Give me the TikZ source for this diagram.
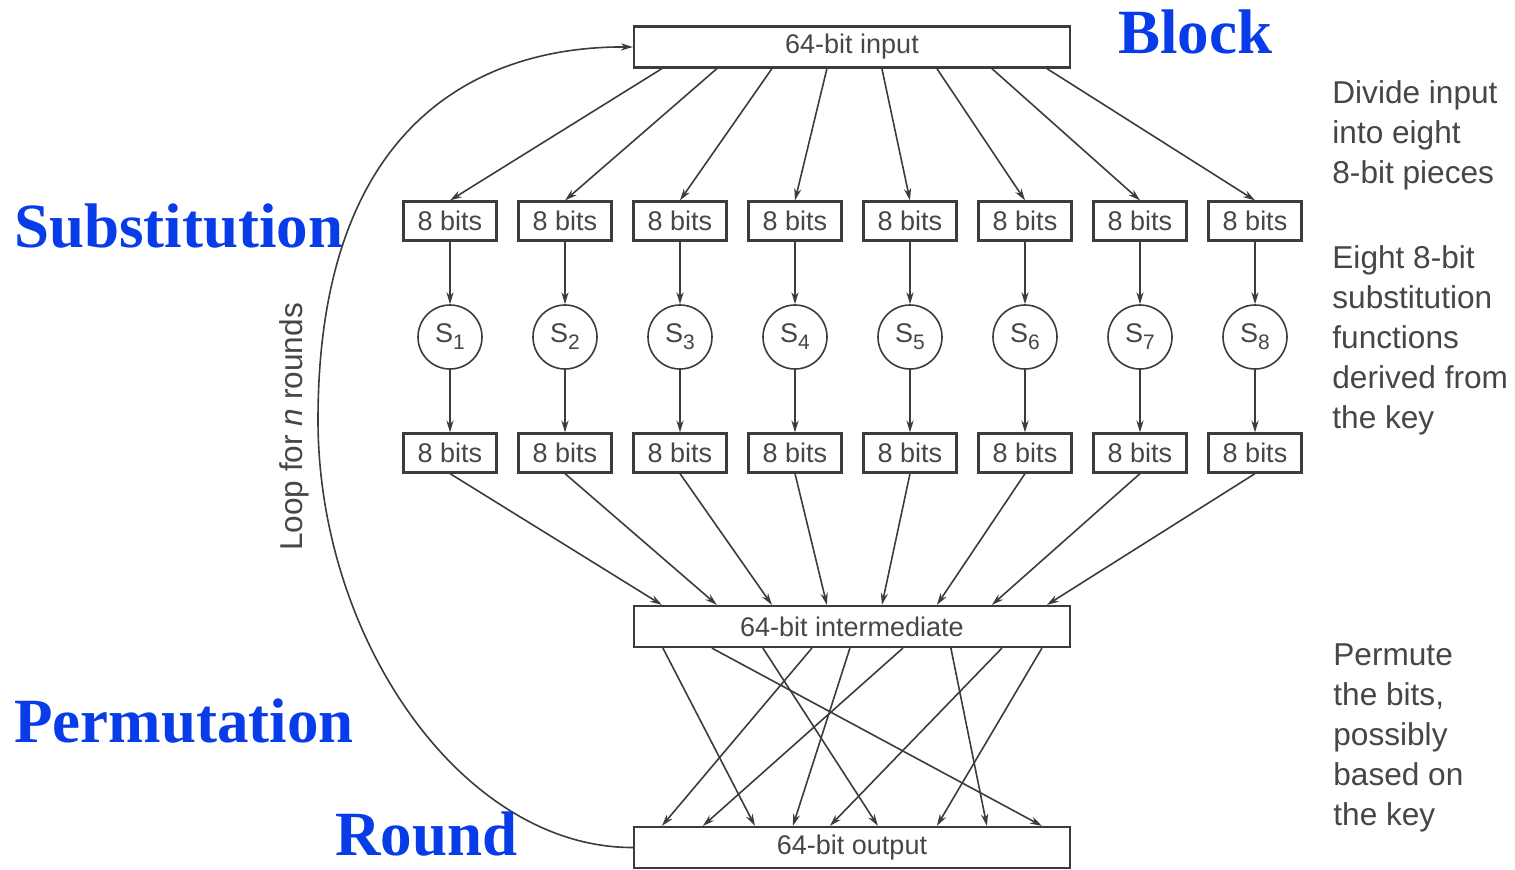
\documentclass[tikz,border=0pt]{standalone}
\usepackage{fontspec}
\setmainfont{Liberation Sans}
\newfontfamily\labelfont{Liberation Serif}
\usetikzlibrary{arrows.meta,calc}
\definecolor{ink}{RGB}{60,60,60}
\definecolor{txt}{RGB}{70,70,70}
\definecolor{lblue}{RGB}{8,60,232}
\begin{document}
\begin{tikzpicture}[x=0.5pt,y=-0.5pt,
  arr/.style={draw=ink, line width=0.8pt, -{Stealth[length=6pt,width=3.6pt]}},
  bigbox/.style={draw=ink, line width=1.1pt, minimum width=218pt, minimum height=20.5pt, inner sep=0pt, font=\fontsize{13.5}{16}\selectfont, text=txt},
  bitbox/.style={draw=ink, line width=1.1pt, minimum width=46.5pt, minimum height=19.5pt, inner sep=0pt, font=\fontsize{13.5}{16}\selectfont, text=txt},
  sbox/.style={circle, draw=ink, line width=0.8pt, minimum size=32pt, inner sep=0pt, font=\fontsize{13.5}{16}\selectfont, text=txt},
  side/.style={anchor=north west, align=left, inner sep=0pt, font=\fontsize{15.8}{20}\selectfont, text=txt},
  tag/.style={anchor=base west, inner sep=0pt, font=\labelfont\bfseries\fontsize{31.5}{36}\selectfont, text=lblue}
]
\useasboundingbox (0,0) rectangle (1515,869);

\node[bigbox] (in) at (852,47) {64-bit input};
\node[bigbox] (mid) at (852,626.5) {64-bit intermediate};
\node[bigbox] (out) at (852,847.5) {64-bit output};

\foreach \i in {1,...,8} {
  \pgfmathsetmacro\xx{450+115*(\i-1)}
  \node[bitbox] (a\i) at (\xx,221) {8 bits};
  \node[sbox] (s\i) at (\xx,337) {S\raisebox{-3.5pt}{\fontsize{10.5}{10.5}\selectfont\i}};
  \node[bitbox] (b\i) at (\xx,453) {8 bits};
  \coordinate (ti\i) at ($(in.south west)+({29+55*(\i-1)},0)$);
  \coordinate (tm\i) at ($(mid.north west)+({29+55*(\i-1)},0)$);
  \draw[arr] (ti\i) -- (a\i.north);
  \draw[arr] (a\i) -- (s\i);
  \draw[arr] (s\i) -- (b\i);
  \draw[arr] (b\i.south) -- (tm\i);
}

\foreach \s/\e [count=\k] in {30/122, 79/409, 130/245, 179/29, 217/160, 270/70, 318/354, 369/197, 409/304} {
  \coordinate (ps\k) at ($(mid.south west)+(\s,0)$);
  \coordinate (pe\k) at ($(out.north west)+(\e,0)$);
  \draw[arr] (ps\k) -- (pe\k);
}

\draw[arr] (out.west) .. controls (463,848) and (318,640) .. (318,420) .. controls (318,120) and (483,46) .. (in.west);

\node[rotate=90, inner sep=0pt, font=\fontsize{15.8}{20}\selectfont, text=txt] (loop) at (294,427) {Loop for \textit{n} rounds};

\node[side] (t1) at (1332,80) {Divide input\\into eight\\8-bit pieces};
\node[side] (t2) at (1332,245) {Eight 8-bit\\substitution\\functions\\derived from\\the key};
\node[side] (t3) at (1333,643) {Permute\\the bits,\\possibly\\based on\\the key};

\node[tag] (lb) at (1118,53) {Block};
\node[tag] (ls) at (14,247) {Substitution};
\node[tag] (lp) at (14,742) {Permutation};
\node[tag] (lr) at (335,855) {Round};
\end{tikzpicture}
\end{document}
